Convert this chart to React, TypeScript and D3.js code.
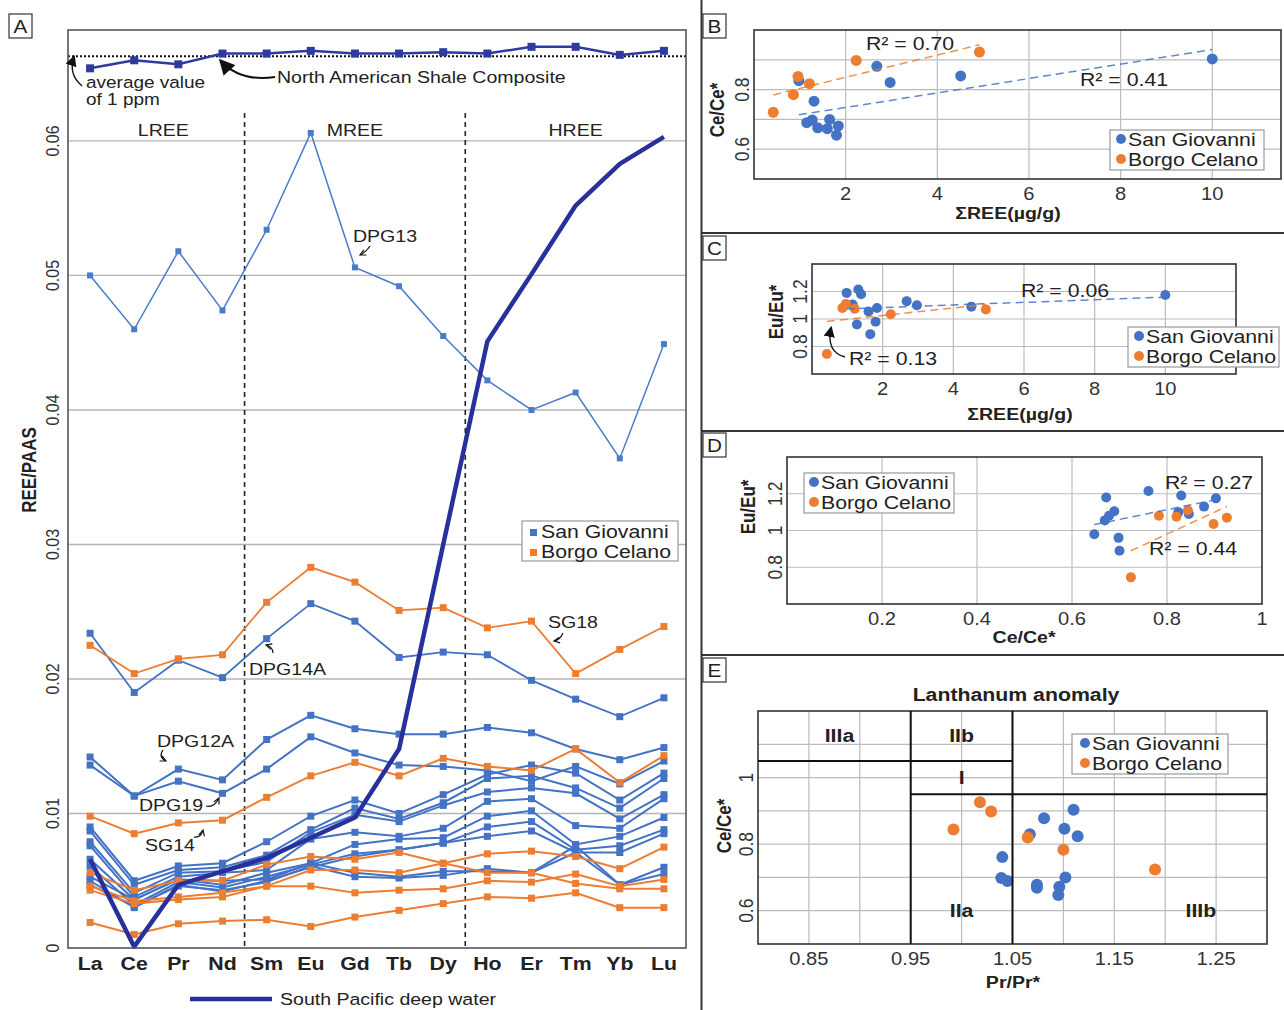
import React from "react";
import * as d3 from "d3";

// ---------- Panel A: REE/PAAS patterns ----------
const elements = ["La", "Ce", "Pr", "Nd", "Sm", "Eu", "Gd", "Tb", "Dy", "Ho", "Er", "Tm", "Yb", "Lu"];
const yTicksA = [0, 0.01, 0.02, 0.03, 0.04, 0.05, 0.06];
const groupsA = ["LREE", "MREE", "HREE"];

const nasc = [0.0654, 0.066, 0.0657, 0.0665, 0.0665, 0.0667, 0.0665, 0.0665, 0.0666, 0.0665, 0.067, 0.067, 0.0664, 0.0667];
const avgOnePpm = 0.0663;
const southPacific = [0.0066, 0.0001, 0.0047, 0.0057, 0.0067, 0.0082, 0.0097, 0.0148, 0.03, 0.0451, 0.0501, 0.0552, 0.0583, 0.0603];

// San Giovanni samples
const dpg13 = [0.05, 0.046, 0.0518, 0.0474, 0.0534, 0.0606, 0.0506, 0.0492, 0.0455, 0.0422, 0.04, 0.0413, 0.0364, 0.0449];
const dpg14a = [0.0234, 0.019, 0.0214, 0.0201, 0.023, 0.0256, 0.0243, 0.0216, 0.022, 0.0218, 0.0199, 0.0185, 0.0172, 0.0186];
const dpg12a = [0.0142, 0.0113, 0.0133, 0.0125, 0.0155, 0.0173, 0.0163, 0.0159, 0.0159, 0.0164, 0.016, 0.0148, 0.014, 0.0149];
const dpg19 = [0.0136, 0.0113, 0.0124, 0.0115, 0.0133, 0.0157, 0.0145, 0.0136, 0.0135, 0.0132, 0.0124, 0.0135, 0.0122, 0.0139];
const sgOther = [
  [0.009, 0.005, 0.0061, 0.0063, 0.0079, 0.0098, 0.011, 0.01, 0.0114, 0.0129, 0.0136, 0.013, 0.011, 0.013],
  [0.0087, 0.0047, 0.0058, 0.006, 0.0069, 0.0088, 0.0104, 0.0096, 0.0108, 0.0126, 0.0128, 0.0119, 0.0104, 0.0126],
  [0.0079, 0.0041, 0.0056, 0.0057, 0.0064, 0.0086, 0.0099, 0.0094, 0.0106, 0.0116, 0.0119, 0.0115, 0.0096, 0.0114],
  [0.0076, 0.0038, 0.0053, 0.0056, 0.0058, 0.0081, 0.0086, 0.0083, 0.0089, 0.0109, 0.0111, 0.0091, 0.0089, 0.0111],
  [0.0066, 0.0036, 0.0051, 0.0047, 0.0056, 0.0063, 0.0077, 0.0081, 0.0082, 0.0098, 0.0102, 0.0077, 0.0083, 0.0097],
  [0.0061, 0.0032, 0.0049, 0.0045, 0.0053, 0.0062, 0.007, 0.0073, 0.0078, 0.009, 0.0094, 0.0073, 0.0076, 0.0088],
  [0.005, 0.003, 0.0047, 0.0042, 0.005, 0.006, 0.0068, 0.0073, 0.0078, 0.0083, 0.0087, 0.0071, 0.0071, 0.0085],
  [0.0047, 0.0031, 0.0046, 0.0043, 0.0049, 0.0061, 0.0053, 0.0052, 0.0054, 0.0059, 0.0056, 0.0071, 0.0047, 0.0055],
  [0.0053, 0.0036, 0.0051, 0.005, 0.0051, 0.0063, 0.0056, 0.0053, 0.0057, 0.0057, 0.0056, 0.0076, 0.0047, 0.006],
];

// Borgo Celano samples
const sg18 = [0.0225, 0.0204, 0.0215, 0.0218, 0.0257, 0.0283, 0.0272, 0.0251, 0.0253, 0.0238, 0.0243, 0.0204, 0.0222, 0.0239];
const sg14 = [0.0098, 0.0085, 0.0093, 0.0095, 0.0112, 0.0128, 0.0138, 0.0128, 0.0141, 0.0135, 0.0132, 0.0148, 0.0123, 0.0143];
const bcOther = [
  [0.0056, 0.0043, 0.005, 0.005, 0.0062, 0.0068, 0.0066, 0.0071, 0.0063, 0.0056, 0.0056, 0.0048, 0.0044, 0.0044],
  [0.0046, 0.0035, 0.0038, 0.0041, 0.0046, 0.0058, 0.0058, 0.0056, 0.0063, 0.007, 0.0072, 0.0068, 0.0059, 0.0075],
  [0.0043, 0.0033, 0.0036, 0.0038, 0.0046, 0.0046, 0.0041, 0.0043, 0.0044, 0.005, 0.0049, 0.0055, 0.0046, 0.0051],
  [0.0019, 0.001, 0.0018, 0.002, 0.0021, 0.0016, 0.0023, 0.0028, 0.0033, 0.0038, 0.0037, 0.0041, 0.003, 0.003],
];

// ---------- Panels B-E: per-sample ratios ----------
const sgSumREE = [0.98, 1.15, 1.27, 1.31, 1.39, 1.6, 1.65, 1.8, 1.84, 2.68, 2.97, 4.51, 10.0];
const sgCe = [0.83, 0.689, 0.698, 0.761, 0.672, 0.669, 0.7, 0.647, 0.678, 0.878, 0.824, 0.846, 0.903];
const sgEu = [1.19, 1.105, 0.96, 1.215, 1.18, 1.055, 0.89, 0.98, 1.08, 1.13, 1.1, 1.09, 1.175];
const sgPr = [1.067, 1.045, 1.039, 1.04, 1.096, 1.074, 1.102, 1.095, 1.074, 1.081, 1.114, 1.101, 1.11];

const bcSumREE = [0.42, 0.86, 0.96, 1.21, 2.23, 4.92];
const bcCe = [0.724, 0.783, 0.844, 0.82, 0.898, 0.926];
const bcEu = [0.745, 1.08, 1.11, 1.075, 1.035, 1.07];
const bcPr = [1.19, 1.1, 0.992, 1.065, 1.029, 1.018];

const r2B = ["R² = 0.70", "R² = 0.41"];
const r2C = ["R² = 0.06", "R² = 0.13"];
const r2D = ["R² = 0.27", "R² = 0.44"];
const regionsE = ["IIIa", "IIb", "I", "IIa", "IIIb"];

const BLUE = "#4472c4";
const ORANGE = "#ed7d31";
const NAVY = "#28319b";
const SX = 1.15; // the figure is slightly stretched horizontally
const FONT = "'Liberation Sans', Arial, sans-serif";

type Box = { l: number; r: number; t: number; b: number };

const Txt = ({ x, y, rot, size = 18, weight, anchor = "start", fill = "#222", baseline, children }: any) => (
  <text
    transform={`translate(${x},${y}) scale(${SX},1)` + (rot ? ` rotate(${rot})` : "")}
    fontSize={size}
    fontWeight={weight}
    textAnchor={anchor}
    dominantBaseline={baseline}
    fill={fill}
  >
    {children}
  </text>
);

function linreg(xs: number[], ys: number[]) {
  const mx = d3.mean(xs)!;
  const my = d3.mean(ys)!;
  const sxy = d3.sum(xs, (v, i) => (v - mx) * (ys[i] - my));
  const sxx = d3.sum(xs, (v) => (v - mx) ** 2);
  const slope = sxy / sxx;
  return (v: number) => my + slope * (v - mx);
}

const PanelLabel = ({ x, y, label }: any) => (
  <g>
    <rect x={x} y={y} width={23} height={24} fill="#fff" stroke="#333" strokeWidth={1.2} />
    <Txt x={x + 11.5} y={y + 19} size={18} anchor="middle">{label}</Txt>
  </g>
);

function Scatter({ f, xd, yd, xGrid, yGrid, xTicks, yTicks, groups, r, trend = true }: any) {
  const x = d3.scaleLinear().domain(xd).range([f.l, f.r]);
  const y = d3.scaleLinear().domain(yd).range([f.b, f.t]);
  return (
    <g>
      {xGrid.map((v: number) => (
        <line key={"gx" + v} x1={x(v)} x2={x(v)} y1={f.t} y2={f.b} stroke="#bcbcbc" strokeWidth={1.2} />
      ))}
      {yGrid.map((v: number) => (
        <line key={"gy" + v} x1={f.l} x2={f.r} y1={y(v)} y2={y(v)} stroke="#bcbcbc" strokeWidth={1.2} />
      ))}
      <rect x={f.l} y={f.t} width={f.r - f.l} height={f.b - f.t} fill="none" stroke="#333" strokeWidth={1.6} />
      {groups.map((g: any) =>
        g.xs.map((v: number, i: number) => (
          <circle key={g.color + i} cx={x(v)} cy={y(g.ys[i])} r={r} fill={g.color} />
        ))
      )}
      {trend &&
        groups.map((g: any) => {
          const fn = linreg(g.xs, g.ys);
          const [a, b] = d3.extent(g.xs as number[]) as [number, number];
          return (
            <line key={"t" + g.color} x1={x(a)} x2={x(b)} y1={y(fn(a))} y2={y(fn(b))}
              stroke={g.color} strokeOpacity={0.85} strokeWidth={1.5} strokeDasharray="8,5" />
          );
        })}
      {xTicks.map((v: number) => (
        <Txt key={"xt" + v} x={x(v)} y={f.b + 21} size={17.5} anchor="middle" fill="#333">{String(v)}</Txt>
      ))}
      {yTicks.map((v: number) => (
        <Txt key={"yt" + v} x={f.l - 5} y={y(v)} rot={-90} size={17.5} anchor="middle" fill="#333">{String(v)}</Txt>
      ))}
    </g>
  );
}

const Legend = ({ x, y, w, dot, square }: any) => (
  <g>
    <rect x={x} y={y} width={w} height={40} fill="#fff" stroke="#999" strokeWidth={1.2} />
    {[["San Giovanni", BLUE], ["Borgo Celano", ORANGE]].map(([name, c], i) =>
      square ? (
        <g key={name}>
          <rect x={x + 8} y={y + 8 + i * 20} width={7} height={7} fill={c} />
          <Txt x={x + 19} y={y + 17 + i * 20} size={18.5}>{name}</Txt>
        </g>
      ) : (
        <g key={name}>
          <circle cx={x + dot} cy={y + 9 + i * 20} r={5} fill={c} />
          <Txt x={x + dot + 7} y={y + 16 + i * 20} size={18.5}>{name}</Txt>
        </g>
      )
    )}
  </g>
);

export default function App() {
  // ----- Panel A scales -----
  const A: Box = { l: 68, r: 686, t: 30, b: 948 };
  const x = d3.scalePoint<string>().domain(elements).range([A.l, A.r]).padding(0.5);
  const y = d3.scaleLinear().domain([0, 0.06825]).range([A.b, A.t]);
  const step = x.step();
  const line = d3.line<number>().x((_, i) => x(elements[i])!).y((d) => y(d));
  const splitX = [x("Nd")! + step / 2, x("Dy")! + step / 2];
  const groupX = [(A.l + splitX[0]) / 2 + 7, (splitX[0] + splitX[1]) / 2, (splitX[1] + A.r) / 2];

  const series = (data: number[], color: string, key: string, w = 2, ms = 7) => (
    <g key={key}>
      <path d={line(data)!} fill="none" stroke={color} strokeWidth={w} />
      {data.map((d, i) => (
        <rect key={i} x={x(elements[i])! - ms / 2} y={y(d) - ms / 2} width={ms} height={ms} fill={color} />
      ))}
    </g>
  );

  // ----- Panels B-E -----
  const fB: Box = { l: 754, r: 1281, t: 30, b: 179 };
  const fC: Box = { l: 812, r: 1236, t: 264, b: 374 };
  const fD: Box = { l: 787, r: 1262, t: 457, b: 604 };
  const fE: Box = { l: 758, r: 1267, t: 711, b: 944 };
  const xE = d3.scaleLinear().domain([0.8, 1.3]).range([fE.l, fE.r]);
  const yE = d3.scaleLinear().domain([0.5, 1.2]).range([fE.b, fE.t]);

  return (
    <svg width={1284} height={1010} style={{ position: "absolute", left: 0, top: 0, background: "#fff" }} fontFamily={FONT}>
      <defs>
        <marker id="ah" viewBox="0 0 10 10" refX="8" refY="5" markerWidth="8" markerHeight="8" orient="auto">
          <path d="M0,0 L10,5 L0,10 z" fill="#111" />
        </marker>
        <marker id="ahs" viewBox="0 0 10 10" refX="9" refY="5" markerWidth="6" markerHeight="6" orient="auto">
          <path d="M1,1 L9,5 L1,9" fill="none" stroke="#111" strokeWidth={1.6} />
        </marker>
      </defs>
      <rect width={1284} height={1010} fill="#fff" />

      {/* ================= Panel A ================= */}
      <PanelLabel x={9} y={14} label="A" />
      {yTicksA.slice(1).map((v) => (
        <line key={v} x1={A.l} x2={A.r} y1={y(v)} y2={y(v)} stroke="#b4b4b4" strokeWidth={1.3} />
      ))}
      {splitX.map((v) => (
        <line key={v} x1={v} x2={v} y1={113} y2={A.b} stroke="#222" strokeWidth={1.6} strokeDasharray="5,4" />
      ))}
      {groupsA.map((g, i) => (
        <Txt key={g} x={groupX[i]} y={136} size={17} anchor="middle">{g}</Txt>
      ))}
      {sgOther.map((d, i) => series(d, BLUE, "sg" + i))}
      {series(dpg12a, BLUE, "dpg12a")}
      {series(dpg19, BLUE, "dpg19")}
      {series(dpg14a, BLUE, "dpg14a", 1.8, 7)}
      {series(dpg13, "#4a7cc9", "dpg13", 1.5, 6)}
      {bcOther.map((d, i) => series(d, ORANGE, "bc" + i))}
      {series(sg14, ORANGE, "sg14")}
      {series(sg18, ORANGE, "sg18", 1.8, 7)}
      <path d={line(southPacific)!} fill="none" stroke={NAVY} strokeWidth={4.5} strokeLinejoin="round" />
      <line x1={A.l} x2={A.r} y1={y(avgOnePpm)} y2={y(avgOnePpm)} stroke="#111" strokeWidth={2.2} strokeDasharray="2,2" />
      {series(nasc, "#2e3a9e", "nasc", 2.5, 8)}
      <rect x={A.l} y={A.t} width={A.r - A.l} height={A.b - A.t} fill="none" stroke="#555" strokeWidth={1.6} />

      {yTicksA.map((v) => (
        <Txt key={v} x={A.l - 9} y={y(v)} rot={-90} size={16} anchor="middle" fill="#333">{String(v)}</Txt>
      ))}
      <Txt x={36} y={470} rot={-90} size={17} weight="bold" anchor="middle">REE/PAAS</Txt>
      {elements.map((e) => (
        <Txt key={e} x={x(e)} y={970} size={18.5} weight="bold" anchor="middle">{e}</Txt>
      ))}

      {/* annotations */}
      <Txt x={86} y={88} size={16.5}>average value</Txt>
      <Txt x={86} y={105} size={16.5}>of 1 ppm</Txt>
      <path d="M82,86 Q68,74 74,57" fill="none" stroke="#111" strokeWidth={1.4} markerEnd="url(#ah)" />
      <Txt x={277} y={83} size={17}>North American Shale Composite</Txt>
      <path d="M275,77 Q240,82 221,61" fill="none" stroke="#111" strokeWidth={2} markerEnd="url(#ah)" />
      <Txt x={353} y={242} size={17}>DPG13</Txt>
      <path d="M370,246 Q366,252 360,255" fill="none" stroke="#111" strokeWidth={1.2} markerEnd="url(#ahs)" />
      <Txt x={249} y={675} size={17}>DPG14A</Txt>
      <path d="M273,653 Q273,647 266,645" fill="none" stroke="#111" strokeWidth={1.2} markerEnd="url(#ahs)" />
      <Txt x={548} y={628} size={17}>SG18</Txt>
      <path d="M563,633 Q560,640 554,641" fill="none" stroke="#111" strokeWidth={1.2} markerEnd="url(#ahs)" />
      <Txt x={157} y={747} size={17}>DPG12A</Txt>
      <path d="M163,750 Q158,757 166,761" fill="none" stroke="#111" strokeWidth={1.2} markerEnd="url(#ahs)" />
      <Txt x={139} y={811} size={17}>DPG19</Txt>
      <path d="M206,806 Q214,808 219,798" fill="none" stroke="#111" strokeWidth={1.2} markerEnd="url(#ahs)" />
      <Txt x={145} y={851} size={17}>SG14</Txt>
      <path d="M194,837 Q201,838 203,830" fill="none" stroke="#111" strokeWidth={1.2} markerEnd="url(#ahs)" />

      <Legend x={522} y={521} w={156} square />
      <line x1={190} x2={272} y1={999} y2={999} stroke={NAVY} strokeWidth={4.5} />
      <Txt x={280} y={1005} size={17}>South Pacific deep water</Txt>

      {/* ================= separators ================= */}
      <line x1={701.5} x2={701.5} y1={0} y2={1010} stroke="#333" strokeWidth={2} />
      {[233, 431, 655].map((v) => (
        <line key={v} x1={701} x2={1284} y1={v} y2={v} stroke="#333" strokeWidth={2} />
      ))}

      {/* ================= Panel B ================= */}
      <PanelLabel x={703} y={14} label="B" />
      <Scatter f={fB} xd={[0, 11.5]} yd={[0.5, 1.0]} xGrid={[2, 4, 6, 8, 10]} yGrid={[0.6, 0.7, 0.8, 0.9]}
        xTicks={[2, 4, 6, 8, 10]} yTicks={[0.6, 0.8]} r={5.5}
        groups={[{ xs: sgSumREE, ys: sgCe, color: BLUE }, { xs: bcSumREE, ys: bcCe, color: ORANGE }]} />
      <Txt x={866} y={50} size={18.5}>{r2B[0]}</Txt>
      <Txt x={1080} y={86} size={18.5}>{r2B[1]}</Txt>
      <Legend x={1110} y={130} w={154} dot={11} />
      <Txt x={724} y={110} rot={-90} size={17} weight="bold" anchor="middle">Ce/Ce*</Txt>
      <Txt x={1008} y={219} size={17} weight="bold" anchor="middle">ΣREE(µg/g)</Txt>

      {/* ================= Panel C ================= */}
      <PanelLabel x={703} y={236} label="C" />
      <Scatter f={fC} xd={[0, 12]} yd={[0.6, 1.4]} xGrid={[2, 4, 6, 8, 10]} yGrid={[0.8, 1.0, 1.2]}
        xTicks={[2, 4, 6, 8, 10]} yTicks={[0.8, 1, 1.2]} r={5}
        groups={[{ xs: sgSumREE, ys: sgEu, color: BLUE }, { xs: bcSumREE, ys: bcEu, color: ORANGE }]} />
      <Txt x={1021} y={297} size={18.5}>{r2C[0]}</Txt>
      <Txt x={849} y={365} size={18.5}>{r2C[1]}</Txt>
      <path d="M845,357 Q826,352 831,328" fill="none" stroke="#111" strokeWidth={1.4} markerEnd="url(#ah)" />
      <Legend x={1128} y={327} w={151} dot={11} />
      <Txt x={783} y={312} rot={-90} size={17} weight="bold" anchor="middle">Eu/Eu*</Txt>
      <Txt x={1020} y={420} size={17} weight="bold" anchor="middle">ΣREE(µg/g)</Txt>

      {/* ================= Panel D ================= */}
      <PanelLabel x={703} y={433} label="D" />
      <Scatter f={fD} xd={[0, 1]} yd={[0.6, 1.4]} xGrid={[0.2, 0.4, 0.6, 0.8]} yGrid={[0.8, 1.0, 1.2]}
        xTicks={[0.2, 0.4, 0.6, 0.8, 1]} yTicks={[0.8, 1, 1.2]} r={5}
        groups={[{ xs: sgCe, ys: sgEu, color: BLUE }, { xs: bcCe, ys: bcEu, color: ORANGE }]} />
      <Txt x={1165} y={489} size={18.5}>{r2D[0]}</Txt>
      <Txt x={1149} y={555} size={18.5}>{r2D[1]}</Txt>
      <Legend x={804} y={473} w={150} dot={10} />
      <Txt x={755} y={507} rot={-90} size={17} weight="bold" anchor="middle">Eu/Eu*</Txt>
      <Txt x={1024} y={643} size={17} weight="bold" anchor="middle">Ce/Ce*</Txt>

      {/* ================= Panel E ================= */}
      <PanelLabel x={703} y={658} label="E" />
      <Txt x={1016} y={701} size={18.5} weight="bold" anchor="middle">Lanthanum anomaly</Txt>
      <Scatter f={fE} xd={[0.8, 1.3]} yd={[0.5, 1.2]}
        xGrid={[0.85, 0.9, 0.95, 1.0, 1.05, 1.1, 1.15, 1.2, 1.25]} yGrid={[0.6, 0.7, 0.8, 0.9, 1.0, 1.1]}
        xTicks={[0.85, 0.95, 1.05, 1.15, 1.25]} yTicks={[0.6, 0.8, 1]} r={6} trend={false}
        groups={[{ xs: sgPr, ys: sgCe, color: BLUE }, { xs: bcPr, ys: bcCe, color: ORANGE }]} />
      <g stroke="#111" strokeWidth={2}>
        <line x1={xE(0.95)} x2={xE(0.95)} y1={fE.t} y2={fE.b} />
        <line x1={xE(1.05)} x2={xE(1.05)} y1={fE.t} y2={fE.b} />
        <line x1={fE.l} x2={xE(1.05)} y1={yE(1.05)} y2={yE(1.05)} />
        <line x1={xE(0.95)} x2={fE.r} y1={yE(0.95)} y2={yE(0.95)} />
      </g>
      <Txt x={xE(0.88)} y={yE(1.125)} size={18.5} weight="bold" anchor="middle" baseline="central">{regionsE[0]}</Txt>
      <Txt x={xE(1.0)} y={yE(1.125)} size={18.5} weight="bold" anchor="middle" baseline="central">{regionsE[1]}</Txt>
      <Txt x={xE(1.0)} y={yE(1.0)} size={18.5} weight="bold" anchor="middle" baseline="central">{regionsE[2]}</Txt>
      <Txt x={xE(1.0)} y={yE(0.6)} size={18.5} weight="bold" anchor="middle" baseline="central">{regionsE[3]}</Txt>
      <Txt x={xE(1.235)} y={yE(0.6)} size={18.5} weight="bold" anchor="middle" baseline="central">{regionsE[4]}</Txt>
      <Legend x={1072} y={734} w={156} dot={13} />
      <Txt x={731} y={826} rot={-90} size={17} weight="bold" anchor="middle">Ce/Ce*</Txt>
      <Txt x={1013} y={988} size={17} weight="bold" anchor="middle">Pr/Pr*</Txt>
    </svg>
  );
}
